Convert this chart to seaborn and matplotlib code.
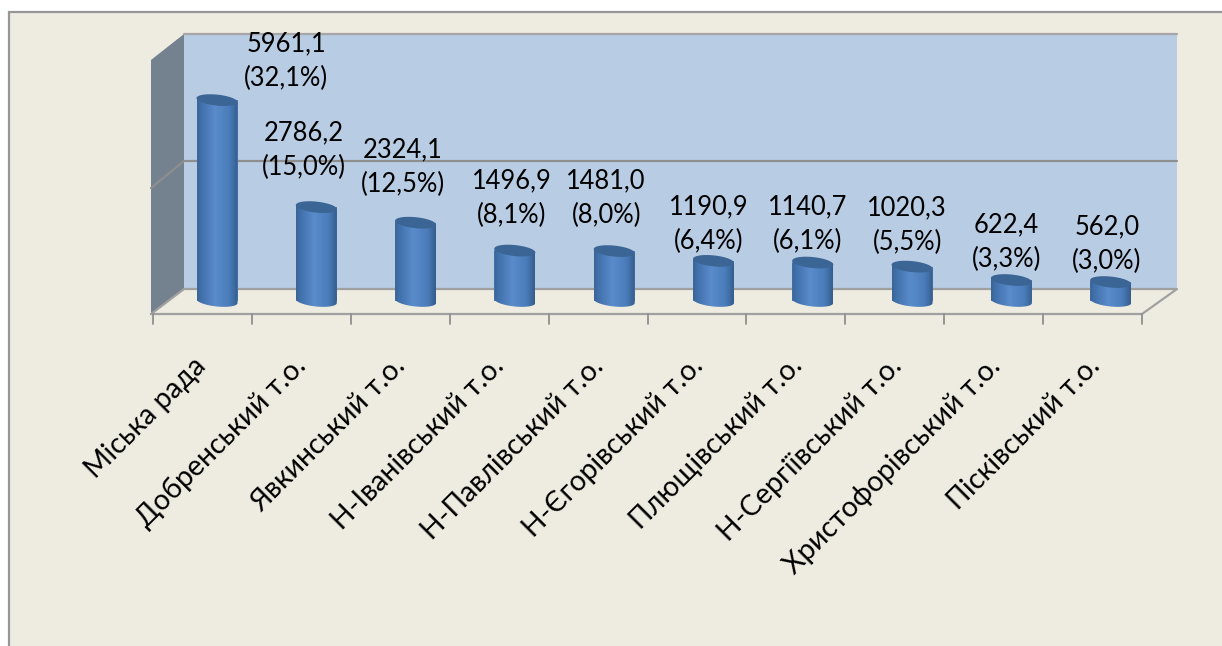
import numpy as np
import pandas as pd
import matplotlib
matplotlib.use("Agg")
import matplotlib.pyplot as plt
import seaborn as sns
from matplotlib.colors import LinearSegmentedColormap
from matplotlib.patches import Polygon
from matplotlib.transforms import ScaledTranslation

categories = ["Міська рада", "Добренський т.о.", "Явкинський т.о.", "Н-Іванівський т.о.",
              "Н-Павлівський т.о.", "Н-Єгорівський т.о.", "Плющівський т.о.",
              "Н-Сергіївський т.о.", "Христофорівський т.о.", "Пісківський т.о."]
values = [5961.1, 2786.2, 2324.1, 1496.9, 1481.0, 1190.9, 1140.7, 1020.3, 622.4, 562.0]
shares = ["32,1", "15,0", "12,5", "8,1", "8,0", "6,4", "6,1", "5,5", "3,3", "3,0"]
value_labels = ["5961,1", "2786,2", "2324,1", "1496,9", "1481,0", "1190,9", "1140,7", "1020,3", "622,4", "562,0"]

# label placement, pixels from the top of each bar
label_dx = [69, -12, -13, -3, -8, -5, -5, -5, -5, -4]
label_dy = [39.1, 57.1, 55.7, 52.5, 53.1, 36.9, 38.5, 41.5, 37.5, 38]

W, H = 1222, 646
PX_X0, PX_STEP = 217.0, 99.3     # first bar centre, spacing
PX_BASE, PX_PER_UNIT = 301.0, 0.0337
YMAX, YLOW = 8000, 400

PANEL, WALL, SIDE, LINE = "#eeece1", "#b8cce4", "#74828f", "#8e8e8e"
sns.set_theme(style="white")
plt.rcParams["font.family"] = ["Lato", "DejaVu Sans"]

fig = plt.figure(figsize=(W / 100, H / 100), dpi=100, facecolor="white")

# chart frame, in pixel coordinates
bg = fig.add_axes([0, 0, 1, 1])
bg.set_xlim(0, W); bg.set_ylim(H, 0); bg.axis("off")
bg.add_patch(Polygon([(9, 12), (W + 2, 12), (W + 2, H + 2), (9, H + 2)], fc=PANEL, ec="#969696", lw=1.6))
bg.add_patch(Polygon([(184, 34), (1177, 34), (1177, 289), (184, 289)], fc=WALL, ec="none"))
bg.add_patch(Polygon([(151, 60), (184, 34), (184, 289), (151, 314)], fc=SIDE, ec="none"))
bg.plot([184, 1177], [34, 34], color="#a6a6a6", lw=1.6)
bg.plot([151, 184, 1177], [188, 161, 161], color=LINE, lw=1.6)
bg.plot([151, 184, 1177, 1142, 151], [314, 289, 289, 314, 314], color="#a0a0a0", lw=1.6)
for t in range(11):
    x = 153 + 98.9 * t
    bg.plot([x, x], [314, 324], color=LINE, lw=1.3)

# data axes
left = PX_X0 - 0.5 * PX_STEP
width = 10 * PX_STEP
height = (YMAX + YLOW) * PX_PER_UNIT
bottom_px = PX_BASE + YLOW * PX_PER_UNIT
ax = fig.add_axes([left / W, (H - bottom_px) / H, width / W, height / H], facecolor="none")
df = pd.DataFrame({"category": categories, "value": values})
sns.barplot(data=df, x="category", y="value", ax=ax, color="#4f80bd", width=41 / PX_STEP,
            saturation=1, zorder=2, edgecolor="none", linewidth=0)
ax.set_xlim(-0.5, 9.5); ax.set_ylim(-YLOW, YMAX)
ax.set_xlabel(""); ax.set_ylabel("")
ax.set_yticks([])
for s in ax.spines.values():
    s.set_visible(False)
ax.tick_params(axis="x", length=0, pad=27.5)
ax.set_xticks(range(10))
ax.set_xticklabels(categories, rotation=45, ha="right", rotation_mode="anchor",
                   fontsize=20.4, color="black")
shift = ScaledTranslation(-24 / 100, 0, fig.dpi_scale_trans)
for lab in ax.get_xticklabels():
    lab.set_transform(lab.get_transform() + shift)

cmap = LinearSegmentedColormap.from_list("cyl", [(0, "#3a6596"), (0.12, "#4272ad"), (0.45, "#5a8bcb"),
                                                 (0.8, "#4a7cba"), (1, "#355d8c")])
grad = np.linspace(0, 1, 128).reshape(1, -1)
bw = 41 / PX_STEP
a, b = bw / 2, 5.5 / PX_PER_UNIT
tilt = 2.0 / PX_PER_UNIT
t = np.linspace(0, 2 * np.pi, 80)
for patch, v in zip(list(ax.patches), values):
    x0 = patch.get_x(); cx = x0 + bw / 2
    tb = np.linspace(np.pi, 2 * np.pi, 40)
    low = np.c_[cx + a * np.cos(tb), b * np.sin(tb) - tilt * np.cos(tb)]
    tt = np.linspace(0, np.pi, 40)
    up = np.c_[cx + a * np.cos(tt), v - tilt * np.cos(tt)]
    body = Polygon(np.r_[low, up], closed=True, fc="none", ec="none", transform=ax.transData)
    ax.add_patch(body)
    im = ax.imshow(grad, extent=[x0, x0 + bw, -b * 2, v + b * 2], cmap=cmap, aspect="auto", zorder=3,
                   origin="lower", interpolation="bilinear")
    im.set_clip_path(body)
    ax.add_patch(Polygon(np.c_[cx + a * np.cos(t), v + b * np.sin(t) - tilt * np.cos(t)],
                         fc="#3a6594", ec="none", zorder=4))
ax.set_xlim(-0.5, 9.5); ax.set_ylim(-YLOW, YMAX)

for i, v in enumerate(values):
    ax.annotate(f"{value_labels[i]}\n({shares[i]}%)", xy=(i, v), xytext=(label_dx[i], label_dy[i]),
                textcoords="offset pixels", ha="center", va="center", multialignment="center",
                fontsize=18.4, linespacing=1.48, color="black", zorder=6, annotation_clip=False)

fig.savefig("out.png", dpi=100, facecolor="white")
